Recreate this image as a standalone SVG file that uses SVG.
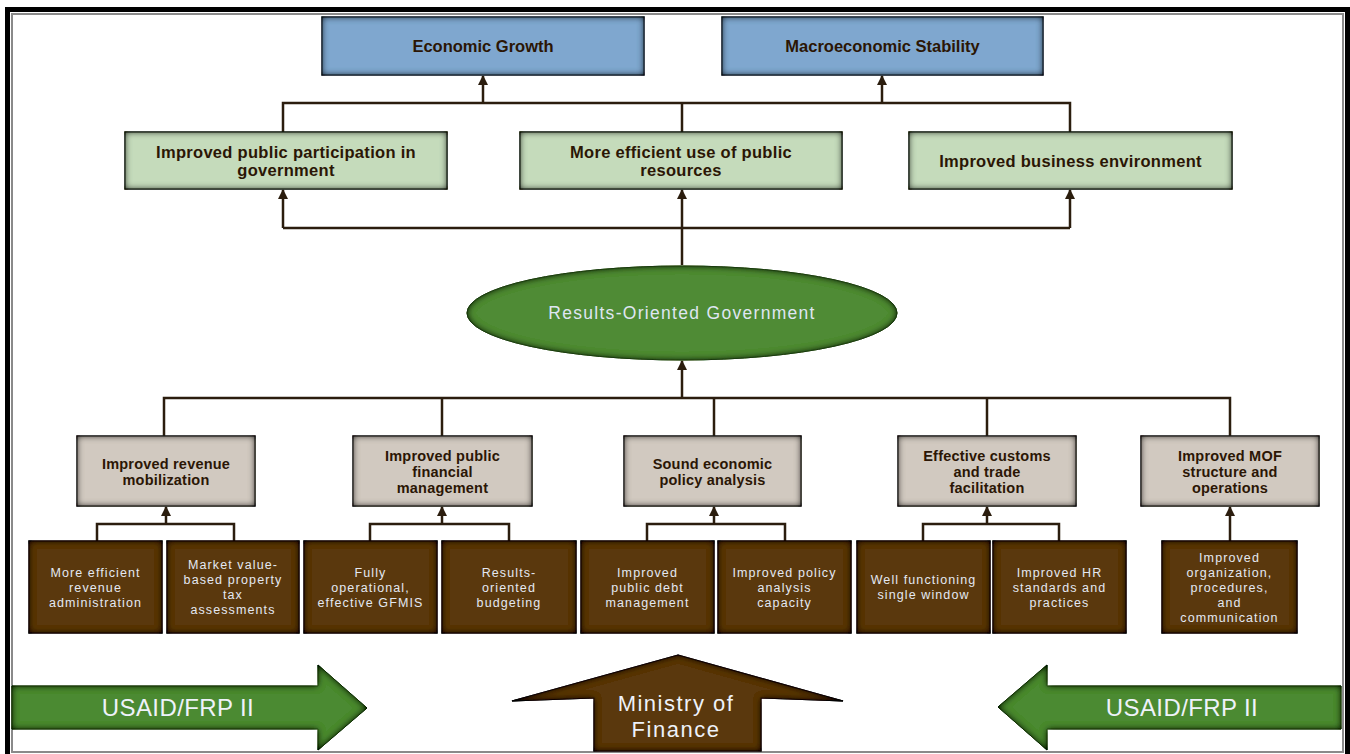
<svg xmlns="http://www.w3.org/2000/svg" width="1350" height="754" viewBox="0 0 1350 754">
  <style>
    .hdr { font-family: "Liberation Sans", Arial, sans-serif; font-weight: bold; font-size: 16.5px; fill: #2b1605; text-anchor: middle; }
    .goal { font-family: "Liberation Sans", Arial, sans-serif; font-weight: bold; font-size: 16.5px; fill: #2b1605; text-anchor: middle; letter-spacing: 0.3px; }
    .obj { font-family: "Liberation Sans", Arial, sans-serif; font-weight: bold; font-size: 14.5px; fill: #2b1605; text-anchor: middle; letter-spacing: 0.2px; }
    .act { font-family: "Liberation Sans", Arial, sans-serif; font-size: 12.5px; fill: #e4e8f2; text-anchor: middle; letter-spacing: 1.1px; }
    .ell { font-family: "Liberation Sans", Arial, sans-serif; font-size: 17.5px; fill: #dfe6f2; text-anchor: middle; letter-spacing: 1.3px; }
    .big { font-family: "Liberation Sans", Arial, sans-serif; font-size: 24px; fill: #eef2fa; text-anchor: middle; letter-spacing: 0.4px; }
    .mof { font-family: "Liberation Sans", Arial, sans-serif; font-size: 22px; fill: #eef2fa; text-anchor: middle; letter-spacing: 1.5px; }
    .blue { fill: #7fa7cf; stroke: #2e3a44; stroke-width: 1.2; }
    .green { fill: #c5dbbb; stroke: #2f3a2a; stroke-width: 1.2; }
    .grey { fill: #d1c9c0; stroke: #3a3530; stroke-width: 1.2; }
    .brown { fill: #5a380c; stroke: #2a1a05; stroke-width: 1.2; }
    .garrow { fill: #4c8a33; stroke: #2f5a1f; stroke-width: 1; }
    .link { fill: none; stroke: #2b1d0e; stroke-width: 2.5; }
  </style>
  <defs>
    <!-- inner edge shading for the bevelled shapes -->
    <filter id="bevel" x="-5%" y="-10%" width="110%" height="120%">
      <feGaussianBlur in="SourceAlpha" stdDeviation="3.5" result="blur"/>
      <feComposite in="SourceAlpha" in2="blur" operator="out" result="inner"/>
      <feFlood flood-color="#000" flood-opacity="1"/>
      <feComposite in2="inner" operator="in" result="shade"/>
      <feMerge><feMergeNode in="SourceGraphic"/><feMergeNode in="shade"/><feMergeNode in="shade"/></feMerge>
    </filter>
    <marker id="head" viewBox="0 0 10 10" refX="9" refY="5" markerWidth="10" markerHeight="10" markerUnits="userSpaceOnUse" orient="auto">
      <path d="M0,0 L10,5 L0,10 z" fill="#2b1d0e"/>
    </marker>
  </defs>

  <rect width="1350" height="754" fill="#fff"/>

  <!-- frame -->
  <rect x="7.5" y="9.5" width="1340" height="760" fill="none" stroke="#000" stroke-width="5"/>
  <rect x="12" y="14" width="1331" height="738" fill="none" stroke="#8a8a8a" stroke-width="2"/>

  <!-- connectors -->
  <g id="connectors">
    <path class="link" d="M283,132 V103 H1070 V132"/>
    <path class="link" d="M682,132 V103"/>
    <path class="link" d="M483,103 V76" marker-end="url(#head)"/>
    <path class="link" d="M882,103 V76" marker-end="url(#head)"/>
    <path class="link" d="M283,228 H1070"/>
    <path class="link" d="M283,228 V190" marker-end="url(#head)"/>
    <path class="link" d="M1070,228 V190" marker-end="url(#head)"/>
    <path class="link" d="M682,265 V190" marker-end="url(#head)"/>
    <path class="link" d="M682,398 V361" marker-end="url(#head)"/>
    <path class="link" d="M164,436 V398 H1230 V436"/>
    <path class="link" d="M442,398 V436"/>
    <path class="link" d="M714,398 V436"/>
    <path class="link" d="M987,398 V436"/>
    <path class="link" d="M97,541 V524 H234 V541"/>
    <path class="link" d="M166,524 V507" marker-end="url(#head)"/>
    <path class="link" d="M370,541 V524 H509 V541"/>
    <path class="link" d="M442,524 V507" marker-end="url(#head)"/>
    <path class="link" d="M647,541 V524 H785 V541"/>
    <path class="link" d="M714,524 V507" marker-end="url(#head)"/>
    <path class="link" d="M923,541 V524 H1059 V541"/>
    <path class="link" d="M987,524 V507" marker-end="url(#head)"/>
    <path class="link" d="M1230,541 V507" marker-end="url(#head)"/>
  </g>

  <!-- top goals -->
  <g id="economic-growth">
    <rect class="blue" x="322" y="17" width="322" height="58" filter="url(#bevel)"/>
    <text class="hdr" x="483" y="52">Economic Growth</text>
  </g>
  <g id="macro-stability">
    <rect class="blue" x="722" y="17" width="321" height="58" filter="url(#bevel)"/>
    <text class="hdr" x="882.5" y="52">Macroeconomic Stability</text>
  </g>

  <!-- intermediate results -->
  <g id="public-participation">
    <rect class="green" x="125" y="132" width="322" height="57" filter="url(#bevel)"/>
    <text class="goal" x="286" y="158">Improved public participation in<tspan x="286" dy="18">government</tspan></text>
  </g>
  <g id="public-resources">
    <rect class="green" x="520" y="132" width="322" height="57" filter="url(#bevel)"/>
    <text class="goal" x="681" y="158">More efficient use of public<tspan x="681" dy="18">resources</tspan></text>
  </g>
  <g id="business-environment">
    <rect class="green" x="909" y="132" width="323" height="57" filter="url(#bevel)"/>
    <text class="goal" x="1070.5" y="167">Improved business environment</text>
  </g>

  <!-- central objective -->
  <g id="results-oriented">
    <ellipse cx="682" cy="313" rx="215" ry="47" fill="#4f8b35" stroke="#3a6a26" stroke-width="1" filter="url(#bevel)"/>
    <text class="ell" x="682" y="319">Results-Oriented Government</text>
  </g>

  <!-- program objectives -->
  <g id="revenue-mobilization">
    <rect class="grey" x="77" y="436" width="178" height="70" filter="url(#bevel)"/>
    <text class="obj" x="166" y="469">Improved revenue<tspan x="166" dy="16">mobilization</tspan></text>
  </g>
  <g id="financial-management">
    <rect class="grey" x="353" y="436" width="179" height="70" filter="url(#bevel)"/>
    <text class="obj" x="442.5" y="461">Improved public<tspan x="442.5" dy="16">financial</tspan><tspan x="442.5" dy="16">management</tspan></text>
  </g>
  <g id="policy-analysis">
    <rect class="grey" x="624" y="436" width="177" height="70" filter="url(#bevel)"/>
    <text class="obj" x="712.5" y="469">Sound economic<tspan x="712.5" dy="16">policy analysis</tspan></text>
  </g>
  <g id="customs-trade">
    <rect class="grey" x="898" y="436" width="178" height="70" filter="url(#bevel)"/>
    <text class="obj" x="987" y="461">Effective customs<tspan x="987" dy="16">and trade</tspan><tspan x="987" dy="16">facilitation</tspan></text>
  </g>
  <g id="mof-structure">
    <rect class="grey" x="1141" y="436" width="178" height="70" filter="url(#bevel)"/>
    <text class="obj" x="1230" y="461">Improved MOF<tspan x="1230" dy="16">structure and</tspan><tspan x="1230" dy="16">operations</tspan></text>
  </g>

  <!-- activities -->
  <g id="revenue-admin">
    <rect class="brown" x="29" y="541" width="133" height="92" filter="url(#bevel)"/>
    <text class="act" x="95.5" y="577">More efficient<tspan x="95.5" dy="15">revenue</tspan><tspan x="95.5" dy="15">administration</tspan></text>
  </g>
  <g id="property-tax">
    <rect class="brown" x="167" y="541" width="132" height="92" filter="url(#bevel)"/>
    <text class="act" x="233" y="569">Market value-<tspan x="233" dy="15">based property</tspan><tspan x="233" dy="15">tax</tspan><tspan x="233" dy="15">assessments</tspan></text>
  </g>
  <g id="gfmis">
    <rect class="brown" x="304" y="541" width="133" height="92" filter="url(#bevel)"/>
    <text class="act" x="370.5" y="577">Fully<tspan x="370.5" dy="15">operational,</tspan><tspan x="370.5" dy="15">effective GFMIS</tspan></text>
  </g>
  <g id="budgeting">
    <rect class="brown" x="442" y="541" width="134" height="92" filter="url(#bevel)"/>
    <text class="act" x="509" y="577">Results-<tspan x="509" dy="15">oriented</tspan><tspan x="509" dy="15">budgeting</tspan></text>
  </g>
  <g id="debt-management">
    <rect class="brown" x="581" y="541" width="133" height="92" filter="url(#bevel)"/>
    <text class="act" x="647.5" y="577">Improved<tspan x="647.5" dy="15">public debt</tspan><tspan x="647.5" dy="15">management</tspan></text>
  </g>
  <g id="policy-capacity">
    <rect class="brown" x="718" y="541" width="133" height="92" filter="url(#bevel)"/>
    <text class="act" x="784.5" y="577">Improved policy<tspan x="784.5" dy="15">analysis</tspan><tspan x="784.5" dy="15">capacity</tspan></text>
  </g>
  <g id="single-window">
    <rect class="brown" x="857" y="541" width="133" height="92" filter="url(#bevel)"/>
    <text class="act" x="923.5" y="584">Well functioning<tspan x="923.5" dy="15">single window</tspan></text>
  </g>
  <g id="hr-standards">
    <rect class="brown" x="993" y="541" width="133" height="92" filter="url(#bevel)"/>
    <text class="act" x="1059.5" y="577">Improved HR<tspan x="1059.5" dy="15">standards and</tspan><tspan x="1059.5" dy="15">practices</tspan></text>
  </g>
  <g id="organization">
    <rect class="brown" x="1162" y="541" width="135" height="92" filter="url(#bevel)"/>
    <text class="act" x="1229.5" y="562">Improved<tspan x="1229.5" dy="15">organization,</tspan><tspan x="1229.5" dy="15">procedures,</tspan><tspan x="1229.5" dy="15">and</tspan><tspan x="1229.5" dy="15">communication</tspan></text>
  </g>

  <!-- supporting actors -->
  <g id="usaid-left">
    <polygon class="garrow" points="12,686 318,686 318,665 367,708 318,750 318,729 12,729" filter="url(#bevel)"/>
    <text class="big" x="178" y="716">USAID/FRP II</text>
  </g>
  <g id="ministry-of-finance">
    <polygon class="brown" points="678,655 843,701 761,698 761,751 594,751 594,698 512,701" filter="url(#bevel)"/>
    <text class="mof" x="676" y="711">Ministry of<tspan x="676" dy="25.5">Finance</tspan></text>
  </g>
  <g id="usaid-right">
    <polygon class="garrow" points="1341,686 1047,686 1047,665 998,707 1047,750 1047,729 1341,729" filter="url(#bevel)"/>
    <text class="big" x="1182" y="716">USAID/FRP II</text>
  </g>
</svg>
